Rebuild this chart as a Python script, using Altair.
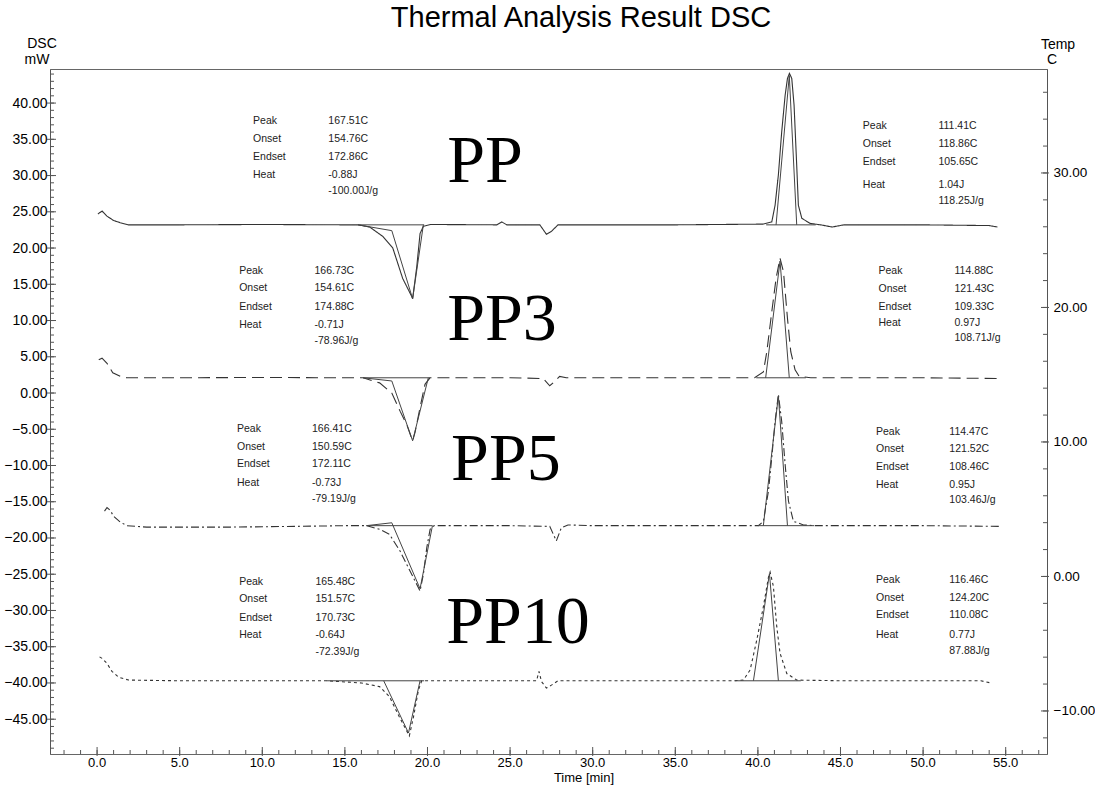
import altair as alt
import pandas as pd

# ---------------- data ----------------
# PP (solid)
pp_t = [0.05, 0.3, 0.6, 1.0, 1.4, 1.9, 5, 10, 15, 15.8, 16.5, 17.3, 17.9, 18.5, 19.05, 19.1,
        19.35, 19.55, 19.75, 20.2, 24.2, 24.5, 24.8, 26.8, 27.2, 27.5, 27.9, 30, 35, 40.3,
        40.84, 41.04, 41.24, 41.44, 41.65, 41.79, 41.91, 42.05, 42.19, 42.35, 42.45, 42.66,
        43.16, 43.8, 44.5, 45.2, 50, 54.0, 54.5]
pp_v = [24.7, 25.1, 24.4, 23.8, 23.5, 23.2, 23.2, 23.25, 23.2, 23.2, 22.9, 21.6, 20.0, 15.8, 13.3, 13.0,
        17.4, 22.0, 23.0, 23.25, 23.2, 23.6, 23.2, 23.2, 21.9, 22.3, 23.2, 23.2, 23.2, 23.3,
        23.6, 25.9, 30.1, 36.0, 41.1, 43.4, 44.1, 43.4, 39.7, 31.4, 25.9, 24.1,
        23.4, 23.2, 22.9, 23.2, 23.2, 23.1, 22.9]

# PP3 (dashed)
pp3_t = [0.1, 0.3, 0.6, 0.95, 1.4, 1.8, 5, 10, 15, 16.1, 17.1, 17.84, 18.34, 18.75, 19.1, 19.25,
         19.55, 19.85, 20.15, 25, 27.0, 27.4, 27.7, 28.0, 28.4, 30, 35, 39.8, 40.33, 40.54,
         40.84, 41.1, 41.34, 41.55, 41.79, 41.99, 42.25, 42.5, 43.2, 45, 50, 54.6]
pp3_v = [4.6, 4.8, 4.1, 2.8, 2.3, 2.1, 2.1, 2.15, 2.1, 2.1, 1.4, 0.0, -2.5, -4.4, -6.6, -5.4,
         -2.0, 1.2, 2.1, 2.1, 2.0, 1.0, 1.6, 2.3, 2.1, 2.1, 2.1, 2.1, 2.9, 5.7,
         11.2, 15.8, 18.6, 16.7, 10.3, 5.7, 3.2, 2.3, 2.1, 2.1, 2.1, 2.0]

# PP5 (dash-dot)
pp5_t = [0.45, 0.6, 0.8, 1.0, 1.4, 1.8, 3, 8, 12, 15, 16.3, 17.1, 17.7, 18.34, 18.95, 19.55,
         19.75, 19.96, 20.16, 20.4, 25, 27.4, 27.8, 28.1, 28.5, 30, 35, 39.5, 40.03, 40.33,
         40.64, 40.84, 41.04, 41.24, 41.44, 41.65, 41.85, 42.15, 42.76, 43.4, 45, 50, 54.7]
pp5_v = [-16.3, -15.8, -16.2, -17.0, -17.8, -18.3, -18.5, -18.5, -18.4, -18.3, -18.3, -18.8, -19.5,
         -21.8, -24.6, -27.3, -25.0, -21.3, -18.8, -18.3, -18.3, -18.4, -20.4, -18.6, -18.2,
         -18.3, -18.3, -18.3, -18.3, -17.7, -13.5, -8.9, -3.9, -0.2, -3.9, -9.9, -14.9,
         -17.7, -18.2, -18.3, -18.3, -18.3, -18.4]

# PP10 (dotted)
pp10_t = [0.15, 0.3, 0.6, 0.9, 1.3, 1.9, 5, 10, 13.9, 16.0, 17.1, 17.7, 18.3, 18.9, 19.15, 19.45,
          19.65, 20.5, 25, 26.6, 26.75, 26.9, 27.2, 27.5, 27.9, 30, 35, 38.5, 39.12, 39.53,
          39.93, 40.33, 40.64, 40.74, 40.94, 41.14, 41.34, 41.75, 42.35, 45, 50, 53.5, 54.1]
pp10_v = [-36.4, -36.6, -37.3, -38.4, -39.2, -39.6, -39.7, -39.7, -39.7, -40.0, -40.5, -41.9,
          -44.7, -47.3, -44.7, -41.0, -39.7, -39.7, -39.7, -39.7, -38.4, -39.8, -40.7, -40.3,
          -39.7, -39.7, -39.7, -39.7, -39.6, -38.2, -34.1, -29.5, -25.4, -24.7, -26.7, -32.2,
          -35.9, -38.7, -39.6, -39.7, -39.7, -39.7, -40.0]

# peak construction lines (baselines and tangents), one id per segment
con_id = ["a", "a", "b", "b", "b", "b",
          "c", "c", "d", "d", "d",
          "e", "e", "f", "f", "f", "f",
          "g", "g", "h", "h", "h",
          "i", "i", "j", "j", "j", "j",
          "k", "k", "l", "l", "l",
          "m", "m", "n", "n", "n",
          "o", "o", "p", "p", "p"]
con_t = [15.8, 19.8, 15.8, 17.84, 19.1, 19.75,
         40.5, 43.5, 41.1, 41.9, 42.35,
         16.1, 20.15, 16.1, 17.84, 19.1, 20.05,
         39.9, 42.9, 40.47, 41.34, 41.9,
         16.3, 20.3, 16.3, 17.84, 19.55, 20.3,
         40.0, 43.4, 40.33, 41.24, 41.79,
         13.9, 19.8, 17.35, 18.85, 19.55,
         38.6, 42.6, 39.73, 40.7, 41.24]
con_v = [23.2, 23.2, 23.2, 22.4, 13.0, 23.2,
         23.2, 23.2, 23.2, 43.8, 23.2,
         2.1, 2.1, 2.1, 1.66, -6.6, 2.1,
         2.1, 2.1, 2.1, 18.2, 2.1,
         -18.3, -18.3, -18.3, -17.9, -27.0, -18.3,
         -18.3, -18.3, -18.3, -0.4, -18.3,
         -39.7, -39.7, -39.7, -46.9, -39.7,
         -39.7, -39.7, -39.7, -24.9, -39.7]

# annotation texts
row_labels = ["Peak", "Onset", "Endset", "Heat", ""]
pp_left_vals = ["167.51C", "154.76C", "172.86C", "-0.88J", "-100.00J/g"]
pp_right_vals = ["111.41C", "118.86C", "105.65C", "1.04J", "118.25J/g"]
pp3_left_vals = ["166.73C", "154.61C", "174.88C", "-0.71J", "-78.96J/g"]
pp3_right_vals = ["114.88C", "121.43C", "109.33C", "0.97J", "108.71J/g"]
pp5_left_vals = ["166.41C", "150.59C", "172.11C", "-0.73J", "-79.19J/g"]
pp5_right_vals = ["114.47C", "121.52C", "108.46C", "0.95J", "103.46J/g"]
pp10_left_vals = ["165.48C", "151.57C", "170.73C", "-0.64J", "-72.39J/g"]
pp10_right_vals = ["116.46C", "124.20C", "110.08C", "0.77J", "87.88J/g"]
sample_names = ["PP", "PP3", "PP5", "PP10"]

# axis tick values
x_major = [0, 5, 10, 15, 20, 25, 30, 35, 40, 45, 50, 55]
x_minor = list(range(-2, 58))
y_major = [-45, -40, -35, -30, -25, -20, -15, -10, -5, 0, 5, 10, 15, 20, 25, 30, 35, 40]
y_minor = list(range(-49, 45))
r_major = [-10, 0, 10, 20, 30]
r_minor = list(range(-12, 38, 2))

# ---------------- layout ----------------
W, H = 997, 685
FONT = "Liberation Sans"
x_scale = alt.Scale(domain=[-2.85, 57.5], nice=False, zero=False)
y_scale = alt.Scale(domain=[-49.8, 44.7], nice=False, zero=False)
r_scale = alt.Scale(domain=[-13.2, 37.73], nice=False, zero=False)
LINE = "#333333"

# block placement (time, mW) : label column, value column, row positions
blocks = [
    (row_labels, pp_left_vals, 9.44, 14.0, [37.52, 35.07, 32.55, 30.06, 27.86]),
    (row_labels, pp_right_vals, 46.35, 50.93, [36.83, 34.38, 31.86, 28.64, 26.48]),
    (row_labels, pp3_left_vals, 8.6, 13.16, [16.86, 14.43, 11.89, 9.37, 7.20]),
    (row_labels, pp3_right_vals, 47.3, 51.9, [16.82, 14.38, 11.89, 9.60, 7.61]),
    (row_labels, pp5_left_vals, 8.47, 13.01, [-4.98, -7.43, -9.81, -12.44, -14.60]),
    (row_labels, pp5_right_vals, 47.15, 51.59, [-5.36, -7.79, -10.19, -12.71, -14.82]),
    (row_labels, pp10_left_vals, 8.6, 13.22, [-26.05, -28.48, -30.97, -33.45, -35.76]),
    (row_labels, pp10_right_vals, 47.15, 51.59, [-25.82, -28.26, -30.65, -33.41, -35.62]),
]
ann = []
for labels, vals, lx, vx, vs in blocks:
    for lab, val, yv in zip(labels, vals, vs):
        if lab:
            ann.append({"t": lx, "v": yv, "s": lab})
        ann.append({"t": vx, "v": yv, "s": val})
ann_df = pd.DataFrame(ann)

big_df = pd.DataFrame({"s": sample_names,
                       "t": [21.19, 21.19, 21.43, 21.13],
                       "v": [29.10, 7.30, -12.02, -34.51]})


def curve(ts, vs, dash):
    df = pd.DataFrame({"t": ts, "v": vs, "i": range(len(ts))})
    mark = alt.Chart(df).mark_line(color=LINE, strokeWidth=1.1, strokeDash=dash)
    return mark.encode(
        x=alt.X("t:Q", scale=x_scale, axis=None),
        y=alt.Y("v:Q", scale=y_scale, axis=None),
        order="i:Q",
    )


y_axis = alt.Axis(values=y_major, format=".2f", title=None, ticks=False, grid=False,
                  orient="left", labelFont=FONT, labelFontSize=14, labelColor="black",
                  labelPadding=3, domainColor="#555", labelFlush=False, labelOverlap=False)
r_axis = alt.Axis(values=r_major, format=".2f", title=None, ticks=False, grid=False,
                  orient="right", labelFont=FONT, labelFontSize=13.5, labelColor="black",
                  labelPadding=6, domainColor="#555", labelFlush=False, labelOverlap=False)

c_pp = curve(pp_t, pp_v, [1, 0])
c_pp3 = curve(pp3_t, pp3_v, [12, 6])
c_pp5 = curve(pp5_t, pp5_v, [8, 3, 2, 3])
c_pp10 = curve(pp10_t, pp10_v, [3, 3])

con_df = pd.DataFrame({"seg": con_id, "t": con_t, "v": con_v, "i": range(len(con_t))})
construction = alt.Chart(con_df).mark_line(color="#444", strokeWidth=1).encode(
    x=alt.X("t:Q", scale=x_scale, axis=None),
    y=alt.Y("v:Q", scale=y_scale, axis=None),
    detail="seg:N",
    order="i:Q",
)

ann_layer = alt.Chart(ann_df).mark_text(align="left", baseline="middle", font=FONT,
                                        fontSize=10.5, color="#222").encode(
    x=alt.X("t:Q", scale=x_scale, axis=None),
    y=alt.Y("v:Q", scale=y_scale, axis=None),
    text="s:N",
)

big_layer = alt.Chart(big_df).mark_text(align="left", baseline="alphabetic",
                                        font="Liberation Serif", fontSize=68,
                                        color="black").encode(
    x=alt.X("t:Q", scale=x_scale, axis=None),
    y=alt.Y("v:Q", scale=y_scale, axis=None),
    text="s:N",
)

# ticks drawn inward; the major-tick layers carry the labelled y axes
ly_minor = alt.Chart(pd.DataFrame({"v": y_minor})).mark_rule(color="#555").encode(
    y=alt.Y("v:Q", scale=y_scale, axis=None), x=alt.value(0), x2=alt.value(4))
ly_major = alt.Chart(pd.DataFrame({"v": y_major})).mark_rule(color="#555").encode(
    y=alt.Y("v:Q", scale=y_scale, axis=y_axis), x=alt.value(-3), x2=alt.value(6))
bx_minor = alt.Chart(pd.DataFrame({"t": x_minor})).mark_rule(color="#555").encode(
    x=alt.X("t:Q", scale=x_scale, axis=None), y=alt.value(H), y2=alt.value(H - 4))
bx_major = alt.Chart(pd.DataFrame({"t": x_major})).mark_rule(color="#555").encode(
    x=alt.X("t:Q", scale=x_scale, axis=None), y=alt.value(H + 2), y2=alt.value(H - 7))
bx_labels = alt.Chart(pd.DataFrame({"t": x_major})).transform_calculate(
    lab="format(datum.t, '.1f')"
).mark_text(font=FONT, fontSize=13, color="black", baseline="middle", align="center").encode(
    x=alt.X("t:Q", scale=x_scale, axis=None), y=alt.value(H + 9), text="lab:N")
r_minor_l = alt.Chart(pd.DataFrame({"r": r_minor})).mark_rule(color="#555").encode(
    y=alt.Y("r:Q", scale=r_scale, axis=None), x=alt.value(W - 4), x2=alt.value(W))
r_major_l = alt.Chart(pd.DataFrame({"r": r_major})).mark_rule(color="#555").encode(
    y=alt.Y("r:Q", scale=r_scale, axis=r_axis), x=alt.value(W - 6), x2=alt.value(W + 2))

# titles and axis captions
def caption(text, px, py, size, font=FONT):
    return alt.Chart(pd.DataFrame({"s": [text]})).mark_text(
        align="center", baseline="middle", font=font, fontSize=size,
        color="black").encode(text="s:N", x=alt.value(px), y=alt.value(py))

captions = [
    caption("Thermal Analysis Result DSC", 531, -51, 29),
    caption("DSC", -8, -25, 14),
    caption("mW", -13, -9, 14),
    caption("Temp", 1008, -24, 14),
    caption("C", 1002, -9, 14),
    caption("Time  [min]", 534, 709, 13),
]

chart = alt.layer(
    ly_major, r_major_l, bx_major, bx_labels,
    c_pp, c_pp3, c_pp5, c_pp10, construction, ann_layer, big_layer,
    ly_minor, bx_minor, r_minor_l, *captions,
).resolve_scale(y="independent").properties(
    width=W, height=H,
    autosize=alt.AutoSizeParams(type="none"),
    padding={"left": 50, "top": 69, "right": 48, "bottom": 31},
    background="white",
).configure_view(stroke="#666", strokeWidth=1)

chart.save("out.html", embed_options={"renderer": "svg", "actions": False})
